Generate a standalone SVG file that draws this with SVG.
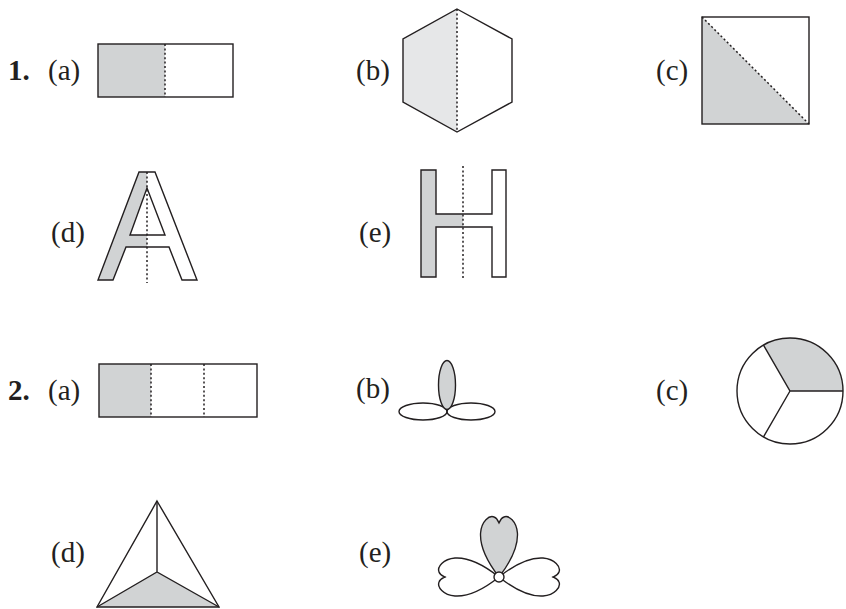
<svg xmlns="http://www.w3.org/2000/svg" width="846" height="609" viewBox="0 0 846 609">
<style>
.lbl{font-family:"Liberation Serif","DejaVu Serif",serif;font-size:29px;fill:#231f20}
.num{font-weight:bold}
.o{fill:none;stroke:#231f20;stroke-width:1.4;stroke-linejoin:miter}
.w{fill:#fff;stroke:#231f20;stroke-width:1.4}
.g{fill:#d1d3d4;stroke:none}
.lg{fill:#e6e7e8;stroke:none}
.d{fill:none;stroke:#231f20;stroke-width:1.5;stroke-dasharray:2 2.4}
</style>
<rect width="846" height="609" fill="#fff"/>
<defs>
<path id="lobe" d="M0,0 C10,-8 28,-20 44,-19 C56,-18 62,-10 60,-5 C59,-2 56,-1 54,0 C56,1 59,2 60,5 C62,10 56,18 44,19 C28,20 10,8 0,0Z"/>
</defs>

<g id="q1">
<text class="lbl num" x="8" y="80">1.</text>
</g>
<g id="q1a">
<text class="lbl" x="48" y="80">(a)</text>
<rect class="g" x="98" y="44" width="67" height="53"/>
<rect class="o" x="98" y="44" width="135" height="53"/>
<line class="d" x1="165" y1="44" x2="165" y2="97"/>
</g>
<g id="q1b">
<text class="lbl" x="356" y="80">(b)</text>
<polygon class="lg" points="457,9 403,39 403,102 457,132"/>
<polygon class="o" points="457,9 512,39 512,102 457,132 403,102 403,39"/>
<line class="d" x1="457" y1="9" x2="457" y2="132"/>
</g>
<g id="q1c">
<text class="lbl" x="656" y="80">(c)</text>
<polygon class="g" points="702,17 809,124 702,124"/>
<rect class="o" x="702" y="17" width="107" height="107"/>
<line class="d" x1="702" y1="17" x2="809" y2="124"/>
</g>
<g id="q1d">
<text class="lbl" x="51" y="242">(d)</text>
<path class="g" d="M139,172 L147,172 L147,188 L130,235 L147,235 L147,247 L126,247 L113,280 L98,280 Z"/>
<path class="o" d="M139,172 L155,172 L197,280 L182,280 L169,247 L126,247 L113,280 L98,280 Z M147,188 L165,235 L130,235 Z"/>
<line class="d" x1="147" y1="172" x2="147" y2="283"/>
</g>
<g id="q1e">
<text class="lbl" x="359" y="242">(e)</text>
<path class="g" d="M421,170 L436,170 L436,214 L463,214 L463,227 L436,227 L436,277 L421,277 Z"/>
<path class="o" d="M421,170 L436,170 L436,214 L492,214 L492,170 L506,170 L506,277 L492,277 L492,227 L436,227 L436,277 L421,277 Z"/>
<line class="d" x1="463" y1="166" x2="463" y2="280"/>
</g>

<g id="q2">
<text class="lbl num" x="8" y="400">2.</text>
</g>
<g id="q2a">
<text class="lbl" x="48" y="400">(a)</text>
<rect class="g" x="99" y="364" width="52" height="53"/>
<rect class="o" x="99" y="364" width="158" height="53"/>
<line class="d" x1="151" y1="364" x2="151" y2="417"/>
<line class="d" x1="204" y1="364" x2="204" y2="417"/>
</g>
<g id="q2b">
<text class="lbl" x="356" y="398">(b)</text>
<ellipse class="o" cx="423" cy="411.5" rx="24" ry="8.5"/>
<ellipse class="o" cx="471" cy="411.5" rx="24" ry="8.5"/>
<ellipse class="g" cx="447" cy="385" rx="8.5" ry="24.5" style="stroke:#231f20;stroke-width:1.4"/>
</g>
<g id="q2c">
<text class="lbl" x="656" y="400">(c)</text>
<path class="g" d="M790,391 L843,391 A53,53 0 0 0 763.5,345.1 Z"/>
<circle class="o" cx="790" cy="391" r="53"/>
<path class="o" d="M843,391 L790,391 L763.5,345.1 M790,391 L763.5,436.9"/>
</g>
<g id="q2d">
<text class="lbl" x="51" y="562">(d)</text>
<polygon class="g" points="97,607 157,572 219,607"/>
<polygon class="o" points="157,501 219,607 97,607"/>
<path class="o" d="M157,501 L157,572 M97,607 L157,572 L219,607"/>
</g>
<g id="q2e">
<text class="lbl" x="359" y="562">(e)</text>
<use href="#lobe" class="w" transform="translate(499,577) rotate(180)"/>
<use href="#lobe" class="w" transform="translate(499,577)"/>
<use href="#lobe" class="g" transform="translate(499,577) rotate(-90) scale(1,0.97)" style="stroke:#231f20;stroke-width:1.4"/>
<circle class="w" cx="499" cy="577" r="5"/>
</g>
</svg>
